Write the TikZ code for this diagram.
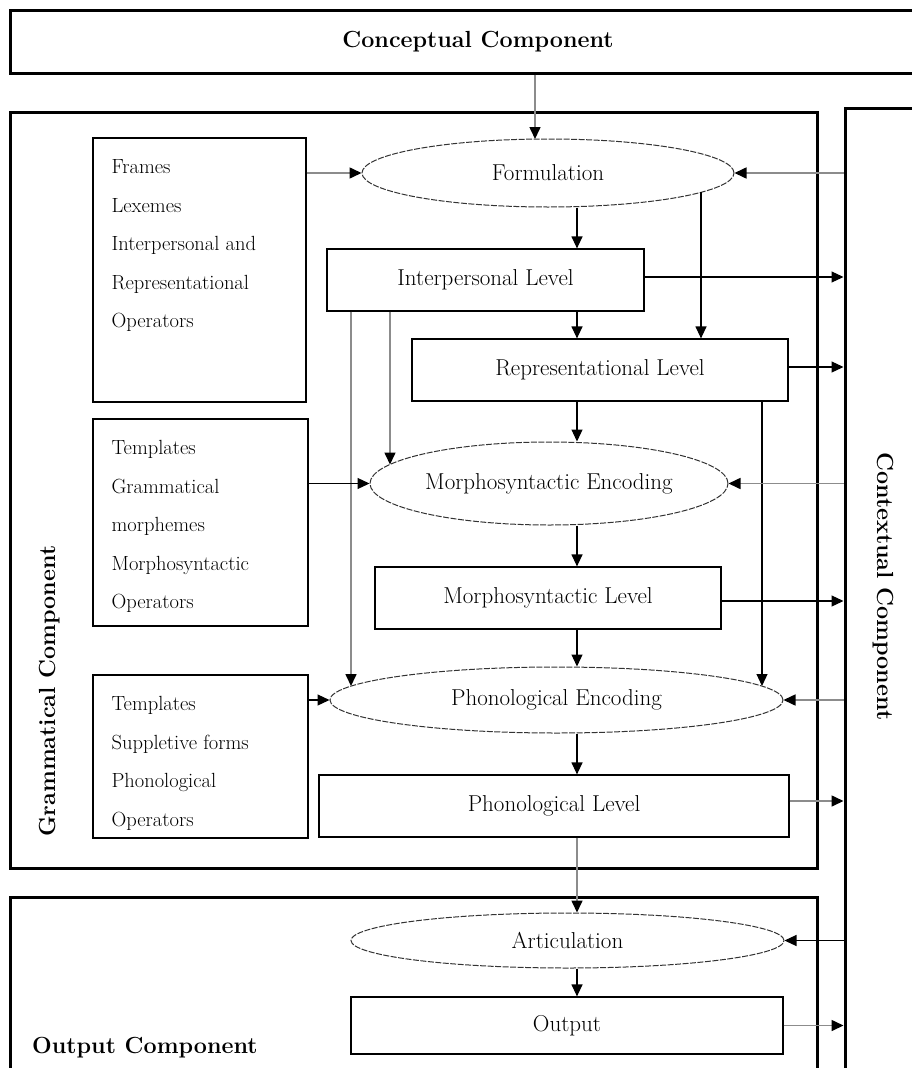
\documentclass[tikz,border=0pt]{standalone}
\usepackage{fontspec}
\usetikzlibrary{shapes.geometric,arrows.meta,calc}
\begin{document}
\begin{tikzpicture}[x=1pt,y=-1pt,
  comp/.style={draw, line width=3pt, inner sep=0pt},
  complbl/.style={inner sep=0pt, font=\fontsize{23.3}{28}\selectfont\bfseries},
  lvl/.style={draw, line width=1.2pt, inner sep=0pt, font=\fontsize{23}{28}\selectfont},
  enc/.style={ellipse, draw=black!80, line width=1pt, dash pattern=on 6pt off 1.5pt, inner sep=0pt, font=\fontsize{23}{28}\selectfont},
  src/.style={draw, line width=1.2pt, inner sep=0pt},
  srctext/.style={align=left, inner sep=0pt, anchor=north west, font=\fontsize{20.5}{38.5}\selectfont},
  blk/.style={draw=black, line width=1.2pt, -{Triangle[width=11pt,length=12pt]}},
  gry/.style={draw=black!45, line width=1.6pt, -{Triangle[width=11pt,length=12pt,color=black]}},
]
\useasboundingbox (0,0) rectangle (912,1068);
\fill[white] (0,0) rectangle (912,1068);
\clip (0,0) rectangle (912,1068);

% components
\node[comp, complbl, minimum width=936, minimum height=63] (concept) at (478,41.5) {Conceptual Component};
\node[comp, minimum width=807, minimum height=756] (gram) at (413.5,490) {};
\node[comp, minimum width=120, minimum height=1000] (ctx) at (905,608) {};
\node[comp, minimum width=807, minimum height=220] (outc) at (413.5,1007) {};

\node[complbl, rotate=90, anchor=base west] (gramlbl) at (55,837) {Grammatical Component};
\node[complbl, rotate=-90, anchor=base west] (ctxlbl) at (877,452) {Contextual Component};
\node[complbl, anchor=base west] (outlbl) at (32,1053) {Output Component};

% source boxes
\node[src, minimum width=213, minimum height=264] (box1) at (199.5,270) {};
\node[src, minimum width=215, minimum height=207] (box2) at (200.5,522.5) {};
\node[src, minimum width=215, minimum height=163] (box3) at (200.5,756.5) {};
\node[srctext] (t1) at ([shift={(19,22)}]box1.north west) {Frames\\Lexemes\\Interpersonal and\\Representational\\Operators};
\node[srctext] (t2) at ([shift={(19,22)}]box2.north west) {Templates\\Grammatical\\morphemes\\Morphosyntactic\\Operators};
\node[srctext] (t3) at ([shift={(19,22)}]box3.north west) {Templates\\Suppletive forms\\Phonological\\Operators};

% levels and encodings
\node[enc, minimum width=372, minimum height=68] (form) at (548,173) {Formulation};
\node[lvl, minimum width=317, minimum height=62] (il) at (485.5,280) {Interpersonal Level};
\node[lvl, minimum width=376, minimum height=62] (rl) at (600,370) {Representational Level};
\node[enc, minimum width=358, minimum height=83] (me) at (549,483.5) {Morphosyntactic Encoding};
\node[lvl, minimum width=346, minimum height=62] (ml) at (548,598) {Morphosyntactic Level};
\node[enc, minimum width=453, minimum height=66] (pe) at (556.5,700) {Phonological Encoding};
\node[lvl, minimum width=470, minimum height=62] (pl) at (554,806) {Phonological Level};
\node[enc, minimum width=433, minimum height=55] (art) at (567.5,940.5) {Articulation};
\node[lvl, minimum width=432, minimum height=57] (out) at (567,1025.5) {Output};

% helper coordinates
\coordinate (colx) at (577,0);
\coordinate (cA) at (535,139);
\coordinate (fB) at (701,192);
\coordinate (mE) at (390,464.5);
\coordinate (pW) at (351,686);
\coordinate (pE) at (762,686);

% main column
\draw[gry] (concept.south -| cA) -- (cA);
\draw[blk] (form.south -| colx) -- (il.north -| colx);
\draw[blk] (il.south -| colx) -- (rl.north -| colx);
\draw[blk] (rl.south -| colx) -- (me.north -| colx);
\draw[blk] (me.south -| colx) -- (ml.north -| colx);
\draw[blk] (ml.south -| colx) -- (pe.north -| colx);
\draw[blk] (pe.south -| colx) -- (pl.north -| colx);
\draw[gry] (pl.south -| colx) -- (art.north -| colx);
\draw[blk] (art.south -| colx) -- (out.north -| colx);

% bypass lines
\draw[blk] (fB) -- (fB |- rl.north);
\draw[gry] (il.south -| mE) -- (mE);
\draw[gry] (il.south -| pW) -- (pW);
\draw[blk] (rl.south -| pE) -- (pE);

% side arrows
\draw[gry] (box1.east |- form.west) -- (form.west);
\draw[gry] (ctx.west |- form.east) -- (form.east);
\draw[blk] ([yshift=3pt]il.east) -- ([yshift=3pt]il.east -| ctx.west);
\draw[blk] ([yshift=3pt]rl.east) -- ([yshift=3pt]rl.east -| ctx.west);
\draw[blk] (box2.east |- me.west) -- (me.west);
\draw[gry] (ctx.west |- me.east) -- (me.east);
\draw[blk] ([yshift=-3pt]ml.east) -- ([yshift=-3pt]ml.east -| ctx.west);
\draw[blk] (box3.east |- pe.west) -- (pe.west);
\draw[gry] (ctx.west |- pe.east) -- (pe.east);
\draw[gry] ([yshift=5pt]pl.east) -- ([yshift=5pt]pl.east -| ctx.west);
\draw[blk] (ctx.west |- art.east) -- (art.east);
\draw[gry] (out.east) -- (out.east -| ctx.west);
\end{tikzpicture}
\end{document}
